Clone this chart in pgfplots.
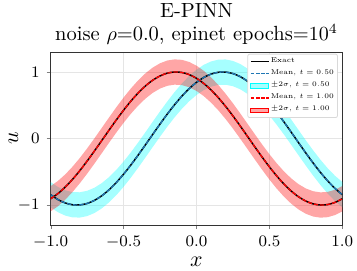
\documentclass[border=0pt]{standalone}
\usepackage{graphicx}
\usepackage{pgfplots}
\pgfplotsset{compat=1.18}
\usepackage{pgfplotstable}
\usepgfplotslibrary{fillbetween}
\pgfplotstableread{
x u
-1.00 -0.9048
-0.95 -0.8271
-0.90 -0.7290
-0.85 -0.6129
-0.80 -0.4818
-0.75 -0.3387
-0.70 -0.1874
-0.65 -0.0314
-0.60 0.1253
-0.55 0.2790
-0.50 0.4258
-0.45 0.5621
-0.40 0.6845
-0.35 0.7902
-0.30 0.8763
-0.25 0.9409
-0.20 0.9823
-0.15 0.9995
-0.10 0.9921
-0.05 0.9603
0.00 0.9048
0.05 0.8271
0.10 0.7290
0.15 0.6129
0.20 0.4818
0.25 0.3387
0.30 0.1874
0.35 0.0314
0.40 -0.1253
0.45 -0.2790
0.50 -0.4258
0.55 -0.5621
0.60 -0.6845
0.65 -0.7902
0.70 -0.8763
0.75 -0.9409
0.80 -0.9823
0.85 -0.9995
0.90 -0.9921
0.95 -0.9603
1.00 -0.9048
}\redtab
\pgfplotstableread{
x u
-1.00 -0.8443
-0.95 -0.9178
-0.90 -0.9686
-0.85 -0.9956
-0.80 -0.9980
-0.75 -0.9759
-0.70 -0.9298
-0.65 -0.8607
-0.60 -0.7705
-0.55 -0.6613
-0.50 -0.5358
-0.45 -0.3971
-0.40 -0.2487
-0.35 -0.0941
-0.30 0.0628
-0.25 0.2181
-0.20 0.3681
-0.15 0.5090
-0.10 0.6374
-0.05 0.7501
0.00 0.8443
0.05 0.9178
0.10 0.9686
0.15 0.9956
0.20 0.9980
0.25 0.9759
0.30 0.9298
0.35 0.8607
0.40 0.7705
0.45 0.6613
0.50 0.5358
0.55 0.3971
0.60 0.2487
0.65 0.0941
0.70 -0.0628
0.75 -0.2181
0.80 -0.3681
0.85 -0.5090
0.90 -0.6374
0.95 -0.7501
1.00 -0.8443
}\bluetab
\definecolor{tabblue}{RGB}{31,119,180}
\definecolor{bandcyan}{RGB}{0,255,255}
\definecolor{bandred}{RGB}{255,0,0}
\newcommand{\legtxt}[1]{\scalebox{0.7}{#1}}
\begin{document}
\begin{tikzpicture}
\begin{axis}[
  scale only axis, width=145.8pt, height=86.5pt,
  xmin=-1, xmax=1, ymin=-1.3, ymax=1.3,
  xtick={-1,-0.5,0,0.5,1}, ytick={-1,0,1},
  xticklabel style={/pgf/number format/.cd, fixed, fixed zerofill, precision=1},
  tick label style={font=\fontsize{8.25}{9}\selectfont},
  tick align=outside, major tick length=2pt,
  xtick pos=bottom, ytick pos=left,
  grid=major, grid style={gray!20, line width=0.3pt},
  axis line style={line width=0.4pt, black!80},
  xlabel={$x$}, ylabel={$u$},
  label style={font=\fontsize{11}{12}\selectfont},
  xlabel style={yshift=2.5pt},
  ylabel style={yshift=-7pt},
  title={E-PINN\\noise $\rho$=0.0, epinet epochs=$10^4$},
  title style={align=center, font=\fontsize{10.25}{11.5}\selectfont, yshift=-6pt},
  legend style={at={(0.985,0.99)}, anchor=north east, font=\fontsize{5}{6}\selectfont,
    draw=gray!30, rounded corners=1pt, inner sep=1.2pt, row sep=1.0pt, column sep=0pt,
    nodes={inner sep=0.6pt}},
  legend cell align=left,
]
\addplot[name path=bU, draw=none, forget plot] table[x=x, y expr=\thisrow{u}+0.19]{\bluetab};
\addplot[name path=bL, draw=none, forget plot] table[x=x, y expr=\thisrow{u}-0.19]{\bluetab};
\addplot[fill=bandcyan, fill opacity=0.35, draw=none, forget plot] fill between[of=bU and bL];
\addplot[name path=rU, draw=none, forget plot] table[x=x, y expr=\thisrow{u}+0.19]{\redtab};
\addplot[name path=rL, draw=none, forget plot] table[x=x, y expr=\thisrow{u}-0.19]{\redtab};
\addplot[fill=bandred, fill opacity=0.35, draw=none, forget plot] fill between[of=rU and rL];
\addplot[black, line width=0.75pt, smooth, forget plot] table[x=x, y=u]{\bluetab};
\addplot[black, line width=0.75pt, smooth, forget plot] table[x=x, y=u]{\redtab};
\addplot[tabblue, line width=0.65pt, dash pattern=on 2.2pt off 0.9pt, smooth, forget plot] table[x=x, y=u]{\bluetab};
\addplot[bandred, line width=0.65pt, dash pattern=on 2.2pt off 0.9pt, smooth, forget plot] table[x=x, y=u]{\redtab};
\addlegendimage{legend image code/.code={\draw[black, line width=0.75pt, sharp corners] (0pt,0pt) -- (9pt,0pt);}}
\addlegendentry{\legtxt{Exact}}
\addlegendimage{legend image code/.code={\draw[tabblue, line width=0.6pt, sharp corners, dash pattern=on 1.8pt off 0.8pt] (0pt,0pt) -- (9pt,0pt);}}
\addlegendentry{\legtxt{Mean, $t=0.50$}}
\addlegendimage{legend image code/.code={\fill[bandcyan, fill opacity=0.35, sharp corners] (0pt,-1.1pt) rectangle (9pt,1.1pt);}}
\addlegendentry{\legtxt{$\pm2\sigma$, $t=0.50$}}
\addlegendimage{legend image code/.code={\draw[bandred, line width=0.6pt, sharp corners, dash pattern=on 1.8pt off 0.8pt] (0pt,0pt) -- (9pt,0pt);}}
\addlegendentry{\legtxt{Mean, $t=1.00$}}
\addlegendimage{legend image code/.code={\fill[bandred, fill opacity=0.35, sharp corners] (0pt,-1.1pt) rectangle (9pt,1.1pt);}}
\addlegendentry{\legtxt{$\pm2\sigma$, $t=1.00$}}
\end{axis}
\pgfresetboundingbox
\path[use as bounding box] (-25.35pt,-22.5pt) rectangle (153.15pt,112.5pt);
\end{tikzpicture}
\end{document}
